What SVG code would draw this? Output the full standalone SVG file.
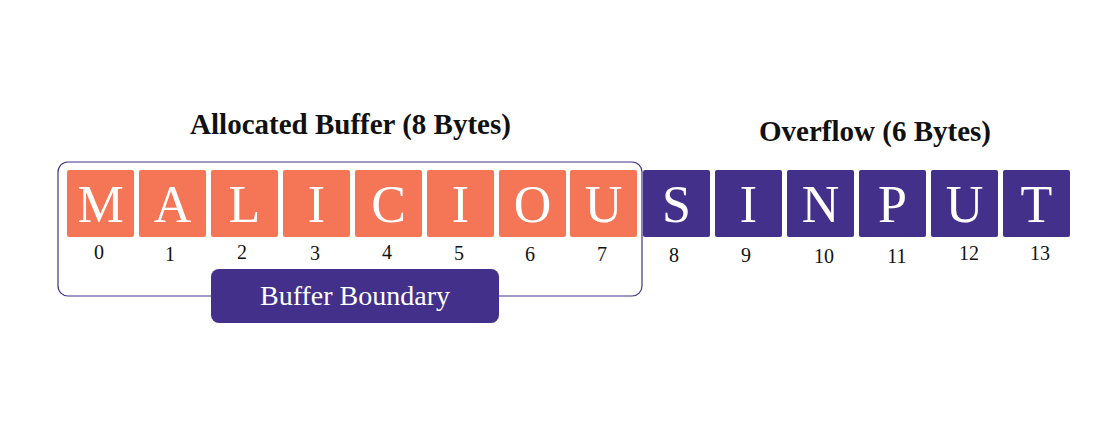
<svg xmlns="http://www.w3.org/2000/svg" width="1116" height="441" viewBox="0 0 1116 441">
<style>
.alloc{fill:#F47656}
.ovf{fill:#43308A}
.ch{font-family:"Liberation Serif",serif;font-size:52px;fill:#ffffff;text-anchor:middle}
.idx{font-family:"Liberation Serif",serif;font-size:20px;fill:#111111;text-anchor:middle}
.title{font-family:"Liberation Serif",serif;font-size:29px;font-weight:bold;fill:#111111;text-anchor:middle}
.lbl{font-family:"Liberation Serif",serif;font-size:28px;fill:#ffffff;text-anchor:middle}
</style>
<rect width="1116" height="441" fill="#ffffff"/>
<text class="title" x="350.5" y="134">Allocated Buffer (8 Bytes)</text>
<text class="title" x="875" y="141">Overflow (6 Bytes)</text>
<g id="buffer-region">
<rect x="58" y="162" width="584" height="134" rx="10" fill="none" stroke="#43308A" stroke-width="1.2"/>
</g>
<g id="connectors"></g>
<g id="b0"><rect class="alloc" x="67" y="170" width="67" height="67" rx="2"/><text class="ch" x="100.5" y="222">M</text><text class="idx" x="99" y="259">0</text></g>
<g id="b1"><rect class="alloc" x="139" y="170" width="67" height="67" rx="2"/><text class="ch" x="172.5" y="222">A</text><text class="idx" x="170" y="261">1</text></g>
<g id="b2"><rect class="alloc" x="211" y="170" width="67" height="67" rx="2"/><text class="ch" x="244.5" y="222">L</text><text class="idx" x="242" y="259">2</text></g>
<g id="b3"><rect class="alloc" x="283" y="170" width="67" height="67" rx="2"/><text class="ch" x="316.5" y="222">I</text><text class="idx" x="315" y="260">3</text></g>
<g id="b4"><rect class="alloc" x="355" y="170" width="67" height="67" rx="2"/><text class="ch" x="388.5" y="222">C</text><text class="idx" x="387" y="259">4</text></g>
<g id="b5"><rect class="alloc" x="427" y="170" width="67" height="67" rx="2"/><text class="ch" x="460.5" y="222">I</text><text class="idx" x="459" y="260">5</text></g>
<g id="b6"><rect class="alloc" x="499" y="170" width="67" height="67" rx="2"/><text class="ch" x="532.5" y="222">O</text><text class="idx" x="530" y="261">6</text></g>
<g id="b7"><rect class="alloc" x="570" y="170" width="67" height="67" rx="2"/><text class="ch" x="603.5" y="222">U</text><text class="idx" x="602" y="261">7</text></g>
<g id="b8"><rect class="ovf" x="643" y="170" width="67" height="67" rx="2"/><text class="ch" x="676.5" y="222">S</text><text class="idx" x="674" y="262">8</text></g>
<g id="b9"><rect class="ovf" x="715" y="170" width="67" height="67" rx="2"/><text class="ch" x="748.5" y="222">I</text><text class="idx" x="746" y="262">9</text></g>
<g id="b10"><rect class="ovf" x="787" y="170" width="67" height="67" rx="2"/><text class="ch" x="820.5" y="222">N</text><text class="idx" x="824" y="263">10</text></g>
<g id="b11"><rect class="ovf" x="859" y="170" width="67" height="67" rx="2"/><text class="ch" x="892.5" y="222">P</text><text class="idx" x="897" y="263">11</text></g>
<g id="b12"><rect class="ovf" x="931" y="170" width="67" height="67" rx="2"/><text class="ch" x="964.5" y="222">U</text><text class="idx" x="969" y="260">12</text></g>
<g id="b13"><rect class="ovf" x="1003" y="170" width="67" height="67" rx="2"/><text class="ch" x="1036.5" y="222">T</text><text class="idx" x="1040" y="260">13</text></g>
<g id="boundary-label">
<rect x="211" y="269" width="288" height="54" rx="8" fill="#43308A"/>
<text class="lbl" x="355" y="305">Buffer Boundary</text>
</g>
</svg>
